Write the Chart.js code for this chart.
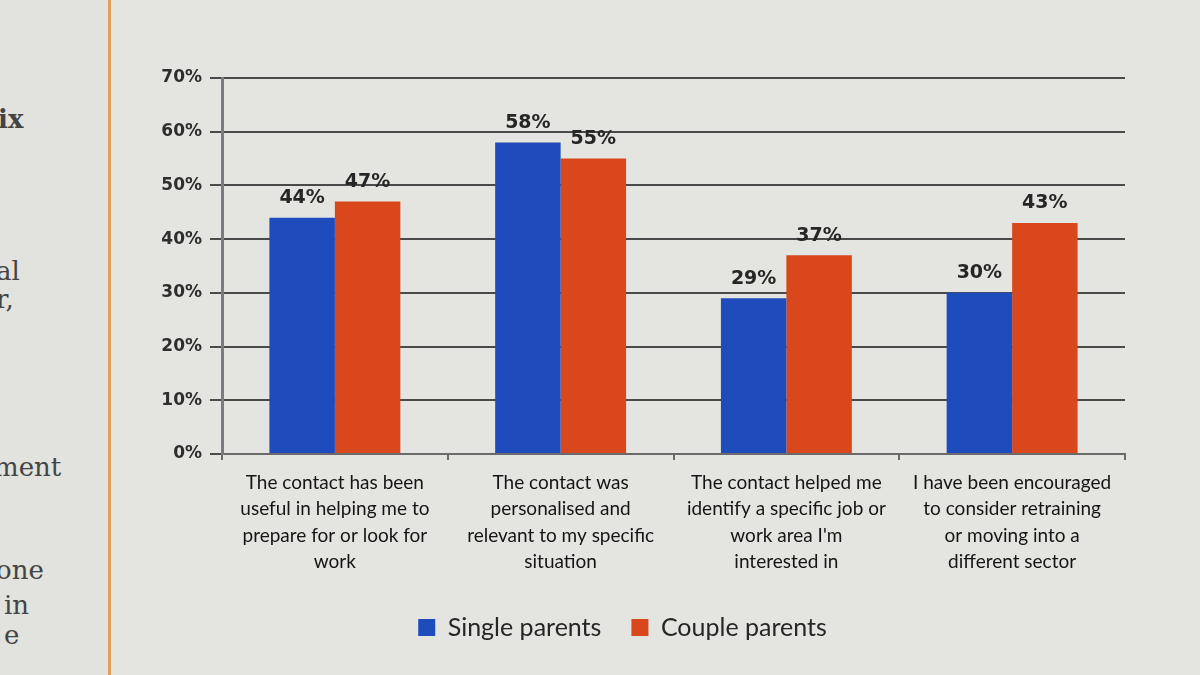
<!DOCTYPE html>
<html>
<head>
<meta charset="utf-8">
<script src="https://cdn.jsdelivr.net/npm/chart.js@4"></script>
<style>
  html, body { margin: 0; padding: 0; }
  body { width: 1200px; height: 675px; background: #e4e4e0; position: relative; overflow: hidden; }
  #page { position: absolute; left: 0; top: 0; width: 108px; height: 675px; background: #e2e2de; border-right: 3px solid #e0a060; overflow: hidden; }
  #page span { position: absolute; font-family: "DejaVu Serif", serif; font-size: 26px; color: #444; }
  #wrap { position: absolute; left: 120px; top: 0; width: 1080px; height: 675px; }
</style>
</head>
<body>
<div id="page">
  <span style="left:-2px;top:104px;font-weight:bold;">ix</span>
  <span style="left:-4px;top:256px;">al</span>
  <span style="left:-4px;top:284px;">r,</span>
  <span style="left:-6px;top:452px;">ment</span>
  <span style="left:-4px;top:555px;">one</span>
  <span style="left:4px;top:590px;">in</span>
  <span style="left:4px;top:620px;">e</span>
</div>
<div id="wrap"><canvas id="bars"></canvas></div>
<script>
// chart data
const categories = [
    ['The contact has been', 'useful in helping me to', 'prepare for or look for', 'work'],
    ['The contact was', 'personalised and', 'relevant to my specific', 'situation'],
    ['The contact helped me', 'identify a specific job or', "work area I'm", 'interested in'],
    ['I have been encouraged', 'to consider retraining', 'or moving into a', 'different sector']
];
const singleParents = [44, 58, 29, 30];
const coupleParents = [47, 55, 37, 43];
const yTicks = [0, 10, 20, 30, 40, 50, 60, 70];

// draw the % above each bar
const barLabels = {
    id: 'barLabels',
    afterDatasetsDraw(chart) {
        const ctx = chart.ctx;
        ctx.save();
        ctx.font = 'bold 19px "DejaVu Sans", sans-serif';
        ctx.fillStyle = '#262626';
        ctx.textAlign = 'center';
        ctx.textBaseline = 'bottom';
        chart.data.datasets.forEach((ds, i) => {
            chart.getDatasetMeta(i).data.forEach((bar, j) => {
                ctx.fillText(ds.data[j] + '%', bar.x, bar.y - 10);
            });
        });
        ctx.restore();
    }
};

const ctx = document.getElementById('bars').getContext('2d');
const myChart = new Chart(ctx, {
    type: 'bar',
    data: {
        labels: categories,
        datasets: [{
            label: 'Single parents',
            data: singleParents,
            backgroundColor: '#1f4cbc',
            borderWidth: 0,
        }, {
            label: 'Couple parents',
            data: coupleParents,
            backgroundColor: '#d8481c',
            borderWidth: 0,
        }]
    },
    plugins: [barLabels],
    options: {
        responsive: true,
        maintainAspectRatio: false,
        animation: false,
        devicePixelRatio: 1,
        layout: {
            padding: { top: 78, right: 75, bottom: 25, left: 0 }
        },
        datasets: {
            bar: { categoryPercentage: 0.58, barPercentage: 1.0 }
        },
        plugins: {
            legend: {
                position: 'bottom',
                labels: {
                    boxWidth: 17,
                    boxHeight: 17,
                    padding: 30,
                    color: '#262626',
                    font: { family: 'Lato, sans-serif', size: 25 },
                }
            },
            tooltip: { enabled: false }
        },
        scales: {
            x: {
                afterFit: function (scale) { scale.height = 131; },
                ticks: {
                    color: '#151515',
                    padding: 10,
                    maxRotation: 0,
                    font: { family: 'Lato, sans-serif', size: 19, lineHeight: 1.38 },
                },
                grid: {
                    offset: true,
                    drawOnChartArea: false,
                    tickLength: 6,
                    color: '#6a6a6a',
                    lineWidth: 2,
                },
                border: { color: '#6a6a6a', width: 2 },
            },
            y: {
                min: 0,
                max: 70,
                afterFit: function (scale) { scale.width = 102; },
                afterBuildTicks: function (scale) {
                    scale.ticks = yTicks.map(v => ({ value: v }));
                },
                ticks: {
                    color: '#2e2e2e',
                    padding: 8,
                    font: { family: '"DejaVu Sans", sans-serif', size: 17, weight: 'bold' },
                    callback: function (value) { return value + '%'; },
                },
                grid: {
                    color: '#4a4a4a',
                    lineWidth: 2,
                    tickLength: 12,
                },
                border: { color: '#7a7a80', width: 3 },
            }
        }
    }
});
</script>
</body>
</html>
